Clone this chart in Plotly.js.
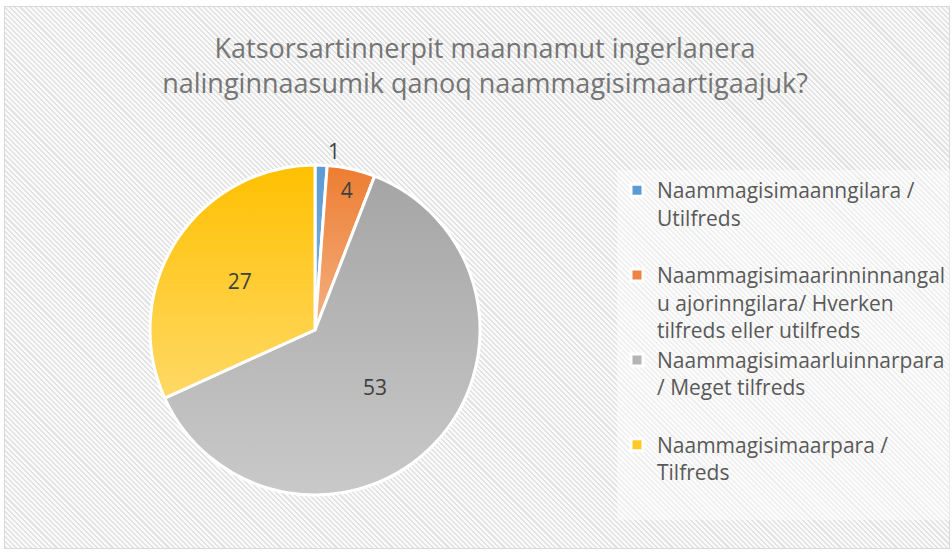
<!DOCTYPE html>
<html>
<head>
<meta charset="utf-8">
<script src="https://cdn.plot.ly/plotly-3.0.1.min.js"></script>
<style>
  html, body { margin: 0; padding: 0; background: #ffffff; }
  #wrap { position: relative; width: 952px; height: 552px; overflow: hidden; background: #ffffff; }
  #frame {
    position: absolute; left: 4px; top: 6px; width: 944px; height: 541px;
    border: 1px solid #d9d9d9;
    background: repeating-linear-gradient(45deg, #e2e2e2 0px, #e2e2e2 1.5px, #fafafa 1.5px, #fafafa 3.6px);
  }
  #chart { position: absolute; left: 0; top: 0; width: 952px; height: 552px; }
</style>
</head>
<body>
<div id="wrap">
  <div id="frame"></div>
  <div id="chart"></div>
</div>
<script>
// ---- data ----
const titleText = "Katsorsartinnerpit maannamut ingerlanera<br>nalinginnaasumik qanoq naammagisimaartigaajuk?";
const categories = [
  "Naammagisimaanngilara /<br>Utilfreds<br> ",
  "Naammagisimaarinninnangal<br>u ajorinngilara/ Hverken<br>tilfreds eller utilfreds",
  "Naammagisimaarluinnarpara<br>/ Meget tilfreds<br> ",
  "Naammagisimaarpara /<br>Tilfreds<br> "
];
const values = [1, 4, 53, 27];
const sliceColors = ["#5B9BD5", "#EE8443", "#B5B5B5", "#FFC928"];
const gradTop = ["#5B9BD5", "#ED7D31", "#A5A5A5", "#FFC000"];
const gradBottom = ["#7FB1E0", "#F4B183", "#C9C9C9", "#FFD966"];
const labelPositions = ["outside", "inside", "inside", "inside"];

const trace = {
  type: "pie",
  labels: categories,
  values: values,
  sort: false,
  direction: "clockwise",
  rotation: 0,
  textinfo: "value",
  textposition: labelPositions,
  insidetextorientation: "horizontal",
  textfont: { family: "Open Sans, sans-serif", size: 21, color: "#404040" },
  outsidetextfont: { family: "Open Sans, sans-serif", size: 21, color: "#404040" },
  marker: { colors: sliceColors, line: { color: "#ffffff", width: 3 } },
  domain: { x: [0.1576, 0.5042], y: [0.1033, 0.7011] },
  hoverinfo: "none"
};

const layout = {
  width: 952, height: 552,
  margin: { l: 0, r: 0, t: 0, b: 0 },
  paper_bgcolor: "rgba(0,0,0,0)",
  plot_bgcolor: "rgba(0,0,0,0)",
  showlegend: true,
  font: { family: "Open Sans, sans-serif", color: "#595959" },
  title: {
    text: titleText,
    x: 0.5095, xanchor: "center",
    y: 1 - 58 / 552, yanchor: "top",
    font: { family: "Open Sans, sans-serif", size: 27, color: "#757575" }
  },
  legend: {
    x: 617 / 952, xanchor: "left",
    y: 1 - 170 / 552, yanchor: "top",
    valign: "top",
    bgcolor: "rgba(255,255,255,0.45)",
    font: { family: "Open Sans, sans-serif", size: 21, color: "#595959" },
    itemclick: false, itemdoubleclick: false
  }
};

Plotly.newPlot("chart", [trace], layout, { displayModeBar: false, staticPlot: true }).then(function (gd) {
  // vertical gradient fills for the slices, like the reference
  const svg = gd.querySelector("svg.main-svg");
  const ns = "http://www.w3.org/2000/svg";
  let defs = svg.querySelector("defs");
  if (!defs) { defs = document.createElementNS(ns, "defs"); svg.insertBefore(defs, svg.firstChild); }
  gradTop.forEach(function (c, i) {
    const g = document.createElementNS(ns, "linearGradient");
    g.setAttribute("id", "sliceGrad" + i);
    g.setAttribute("x1", "0"); g.setAttribute("y1", "0");
    g.setAttribute("x2", "0"); g.setAttribute("y2", "1");
    const s1 = document.createElementNS(ns, "stop");
    s1.setAttribute("offset", "0"); s1.setAttribute("stop-color", c);
    const s2 = document.createElementNS(ns, "stop");
    s2.setAttribute("offset", "1"); s2.setAttribute("stop-color", gradBottom[i]);
    g.appendChild(s1); g.appendChild(s2);
    defs.appendChild(g);
  });
  const slices = gd.querySelectorAll(".pielayer .slice path.surface");
  slices.forEach(function (p, i) {
    p.style.fill = "url(#sliceGrad" + i + ")";
  });
});
</script>
</body>
</html>
